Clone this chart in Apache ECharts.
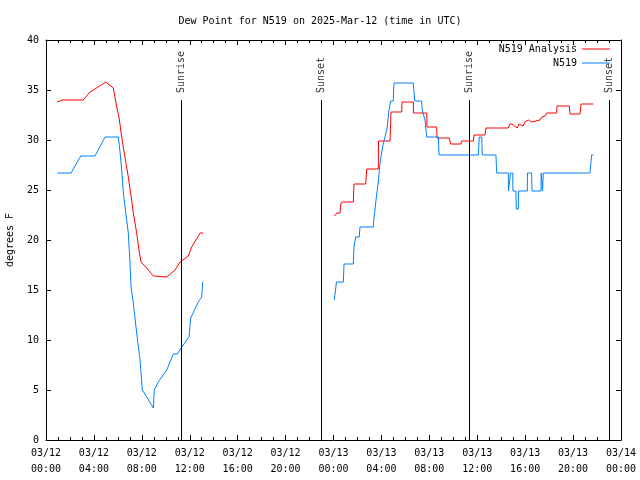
<!DOCTYPE html>
<html>
<head>
<meta charset="utf-8">
<script src="https://cdn.jsdelivr.net/npm/echarts@6/dist/echarts.min.js"></script>
<style>html,body{margin:0;padding:0;background:#fff}#c{width:640px;height:480px}</style>
</head>
<body>
<div id="c"></div>
<script>
// ---- data (hours since 2025-03-12 00:00 UTC) ----
const analysisHoursA = [0.92,1.17,1.34,3.11,3.67,4.09,4.98,5.62,5.90,6.09,6.32,6.59,6.87,7.15,7.29,7.57,7.76,7.93,8.41,8.96,10.08,10.77,11.19,11.88,12.16,12.86,13.11];
const analysisValuesA = [33.8,33.9,34.0,34.0,34.8,35.1,35.8,35.2,33.3,32.3,30.3,28.3,26.3,24.0,22.7,20.7,19.0,17.8,17.2,16.4,16.3,17.0,17.8,18.4,19.3,20.7,20.7];
const analysisHoursB = [24.07,24.21,24.29,24.54,24.62,24.79,25.65,25.71,26.69,26.77,27.74,27.76,28.72,28.80,29.69,29.72,30.66,30.68,31.78,31.80,32.61,32.64,33.68,33.77,34.64,34.68,35.67,35.73,36.64,36.73,38.59,38.73,38.90,39.34,39.48,39.84,39.98,40.26,40.54,40.65,41.24,41.38,41.66,41.80,42.63,42.66,43.68,43.74,44.58,44.66,45.69];
const analysisValuesB = [22.4,22.5,22.7,22.7,23.7,23.8,23.8,25.6,25.6,27.1,27.1,29.9,29.9,32.8,32.8,33.8,33.8,32.7,32.7,31.3,31.3,30.2,30.2,29.6,29.6,29.9,29.9,30.5,30.5,31.2,31.2,31.6,31.6,31.2,31.6,31.4,31.8,32.0,31.8,32.0,32.0,32.3,32.4,32.7,32.7,33.4,33.4,32.6,32.6,33.6,33.6];
const obsHoursA = [0.94,2.09,2.90,4.09,4.93,6.04,6.18,6.32,6.45,6.65,6.87,7.01,7.10,7.29,7.57,7.85,8.04,8.41,8.96,9.04,9.37,10.08,10.63,10.96,11.33,11.94,12.08,12.71,13.00,13.08];
const obsValuesA = [26.7,26.7,28.4,28.4,30.3,30.3,28.8,27.0,24.8,22.8,20.7,17.7,15.3,13.7,10.7,8.0,5.0,4.3,3.2,5.0,5.8,7.0,8.6,8.6,9.3,10.3,12.2,13.8,14.3,15.8];
const obsHoursB = [24.07,24.25,24.82,24.88,25.65,25.71,25.85,26.15,26.21,27.32,27.38,27.46,27.55,27.63,27.74,27.86,27.96,28.13,28.30,28.49,28.63,28.77,28.99,29.01,29.05,30.66,30.78,31.36,31.39,31.47,31.64,31.70,31.78,32.75,32.81,36.09,36.17,36.37,36.42,37.56,37.62,38.59,38.61,38.73,38.77,38.96,38.98,39.23,39.26,39.43,39.44,40.18,40.19,40.54,40.57,41.32,41.34,41.43,41.45,41.49,41.51,45.41,45.55,45.69];
const obsValuesB = [14.0,15.8,15.8,17.6,17.6,19.3,20.3,20.3,21.3,21.3,22.3,23.0,24.0,24.8,25.8,27.5,28.3,29.5,30.3,31.3,33.0,33.9,33.9,34.7,35.7,35.7,33.9,33.9,33.2,32.7,32.0,31.3,30.3,30.3,28.5,28.5,30.3,30.3,28.5,28.5,26.7,26.7,24.9,24.9,26.7,26.7,24.9,24.9,23.1,23.1,24.9,24.9,26.7,26.7,24.9,24.9,26.7,26.7,24.9,24.9,26.7,26.7,28.5,28.5];
const eventNames = ['Sunrise','Sunset','Sunrise','Sunset'];
const eventHours = [11.27,22.96,35.31,47.0];
const xTickLabels = ['03/12\n00:00','03/12\n04:00','03/12\n08:00','03/12\n12:00','03/12\n16:00','03/12\n20:00','03/13\n00:00','03/13\n04:00','03/13\n08:00','03/13\n12:00','03/13\n16:00','03/13\n20:00','03/14\n00:00'];

function pairs(h, v){ return h.map((x,i)=>[x, v[i]]); }
function joinSegs(a, b){ return a.concat([[18, '-']], b); }

const FONT = 'DejaVu Sans Mono';
const chart = echarts.init(document.getElementById('c'), null, {renderer:'canvas'});
const tickCommon = {inside:true, length:5, lineStyle:{color:'#000', width:1}};
chart.setOption({
  animation:false,
  backgroundColor:'#fff',
  textStyle:{fontFamily:FONT, color:'#000'},
  title:{text:'Dew Point for N519 on 2025-Mar-12 (time in UTC)', left:'center', top:11,
         textStyle:{fontFamily:FONT, fontSize:10, fontWeight:'normal', color:'#000'}},
  legend:{show:true, right:25, top:38, orient:'vertical', align:'right', icon:'rect',
          itemWidth:28, itemHeight:1, itemGap:2,
          textStyle:{fontFamily:FONT, fontSize:10, color:'#000', lineHeight:12},
          data:['N519 Analysis','N519']},
  grid:{left:46, right:19, top:40, bottom:40, containLabel:false, outerBoundsMode:'none'},
  xAxis:[{type:'value', min:0, max:48, interval:4, position:'bottom',
          axisLine:{show:true, onZero:false, lineStyle:{color:'#000', width:1}},
          axisTick:tickCommon,
          minorTick:{show:true, splitNumber:4, length:3, lineStyle:{color:'#000'}},
          splitLine:{show:false},
          axisLabel:{fontFamily:FONT, fontSize:10, color:'#000', lineHeight:16, margin:5,
                     formatter:(v)=>xTickLabels[Math.round(v/4)]}},
         {type:'value', min:0, max:48, interval:4, position:'top',
          axisLine:{show:true, onZero:false, lineStyle:{color:'#000', width:1}},
          axisTick:tickCommon,
          minorTick:{show:true, splitNumber:4, length:3, lineStyle:{color:'#000'}},
          splitLine:{show:false}, axisLabel:{show:false}}],
  yAxis:[{type:'value', min:0, max:40, interval:5, position:'left',
          name:'degrees F', nameLocation:'middle', nameGap:31, nameRotate:90,
          nameTextStyle:{fontFamily:FONT, fontSize:10, color:'#000'},
          axisLine:{show:true, onZero:false, lineStyle:{color:'#000', width:1}},
          axisTick:tickCommon, splitLine:{show:false},
          axisLabel:{fontFamily:FONT, fontSize:10, color:'#000', margin:7}},
         {type:'value', min:0, max:40, interval:5, position:'right',
          axisLine:{show:true, onZero:false, lineStyle:{color:'#000', width:1}},
          axisTick:tickCommon, splitLine:{show:false}, axisLabel:{show:false}}],
  series:[
    {name:'N519 Analysis', type:'line', xAxisIndex:0, yAxisIndex:0, symbol:'none', connectNulls:false,
     lineStyle:{color:'#ff0000', width:1}, itemStyle:{color:'#ff0000'},
     data:joinSegs(pairs(analysisHoursA, analysisValuesA), pairs(analysisHoursB, analysisValuesB))},
    {name:'N519', type:'line', xAxisIndex:0, yAxisIndex:0, symbol:'none', connectNulls:false,
     lineStyle:{color:'#0080ff', width:1}, itemStyle:{color:'#0080ff'},
     data:joinSegs(pairs(obsHoursA, obsValuesA), pairs(obsHoursB, obsValuesB))},
    {name:'events', type:'scatter', xAxisIndex:0, yAxisIndex:0, symbolSize:0, silent:true,
     data:eventHours.map((h,i)=>({value:[h, 34.7], name:eventNames[i]})),
     label:{show:true, position:'inside', rotate:90, align:'left', verticalAlign:'middle',
            fontFamily:FONT, fontSize:10, color:'#000', formatter:(p)=>p.name},
     markLine:{silent:true, symbol:['none','none'], label:{show:false},
               lineStyle:{color:'#000', width:1, type:'solid'},
               data:eventHours.map(h=>[{coord:[h,0]},{coord:[h,34]}])}}
  ]
});
</script>
</body>
</html>
